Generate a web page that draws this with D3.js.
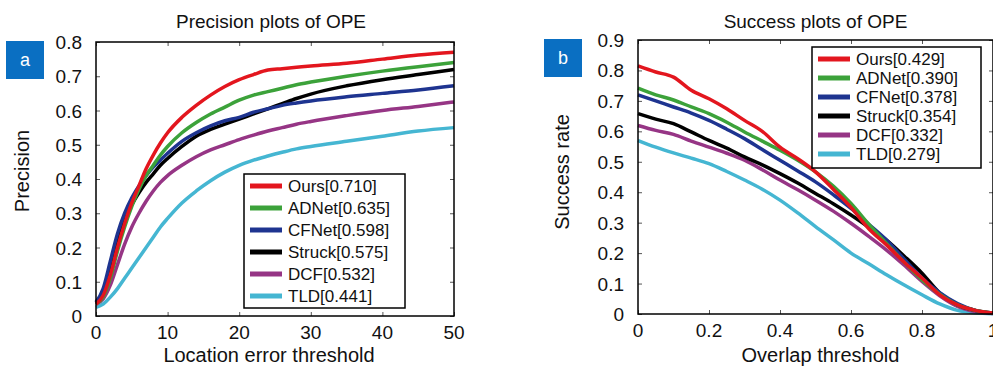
<!DOCTYPE html>
<html>
<head>
<meta charset="utf-8">
<script src="https://cdn.jsdelivr.net/npm/d3@7"></script>
<style>
  body { margin: 0; background: #fff; }
  svg { display: block; font-family: "Liberation Sans", Arial, sans-serif; }
</style>
</head>
<body>
<div id="chart"></div>
<script>
// series names and colours (shared by both panels)
var names = ["Ours", "ADNet", "CFNet", "Struck", "DCF", "TLD"];
var colors = ["#e3161e", "#3ca23a", "#1e3490", "#000000", "#963585", "#45b6d2"];

// precision plot: location error threshold
var precX = [0, 1, 2, 3, 4, 5, 6, 7, 8, 9, 10, 12, 14, 16, 18, 20, 22, 24, 26, 28, 30, 35, 40, 45, 50];
var precOurs   = [0.035, 0.06, 0.12, 0.2, 0.27, 0.33, 0.38, 0.43, 0.47, 0.505, 0.535, 0.58, 0.615, 0.645, 0.67, 0.69, 0.705, 0.718, 0.722, 0.726, 0.73, 0.738, 0.75, 0.762, 0.77];
var precADNet  = [0.035, 0.055, 0.11, 0.19, 0.26, 0.32, 0.37, 0.41, 0.44, 0.47, 0.495, 0.535, 0.565, 0.59, 0.61, 0.63, 0.645, 0.655, 0.665, 0.675, 0.683, 0.7, 0.715, 0.728, 0.74];
var precCFNet  = [0.04, 0.08, 0.16, 0.24, 0.3, 0.345, 0.38, 0.41, 0.435, 0.455, 0.475, 0.51, 0.535, 0.555, 0.57, 0.58, 0.595, 0.605, 0.615, 0.622, 0.628, 0.64, 0.65, 0.66, 0.672];
var precStruck = [0.04, 0.07, 0.14, 0.22, 0.28, 0.325, 0.36, 0.39, 0.415, 0.44, 0.46, 0.495, 0.525, 0.545, 0.56, 0.575, 0.59, 0.605, 0.62, 0.635, 0.648, 0.672, 0.69, 0.705, 0.72];
var precDCF    = [0.035, 0.05, 0.09, 0.15, 0.21, 0.26, 0.3, 0.335, 0.365, 0.39, 0.41, 0.44, 0.465, 0.485, 0.5, 0.515, 0.528, 0.54, 0.55, 0.56, 0.568, 0.585, 0.6, 0.612, 0.625];
var precTLD    = [0.025, 0.035, 0.055, 0.08, 0.11, 0.14, 0.17, 0.2, 0.23, 0.26, 0.285, 0.33, 0.365, 0.395, 0.42, 0.44, 0.455, 0.467, 0.478, 0.488, 0.495, 0.51, 0.525, 0.54, 0.55];
var precScores = ["0.710", "0.635", "0.598", "0.575", "0.532", "0.441"];

// success plot: overlap threshold
var succX = [0, 0.05, 0.1, 0.15, 0.2, 0.25, 0.3, 0.35, 0.4, 0.45, 0.5, 0.55, 0.6, 0.65, 0.7, 0.75, 0.8, 0.85, 0.9, 0.95, 1];
var succOurs   = [0.815, 0.795, 0.778, 0.735, 0.707, 0.674, 0.636, 0.6, 0.548, 0.51, 0.467, 0.41, 0.35, 0.28, 0.227, 0.17, 0.118, 0.063, 0.03, 0.012, 0.003];
var succADNet  = [0.742, 0.72, 0.703, 0.68, 0.658, 0.63, 0.598, 0.568, 0.538, 0.505, 0.467, 0.42, 0.363, 0.295, 0.232, 0.17, 0.112, 0.065, 0.03, 0.012, 0.003];
var succCFNet  = [0.72, 0.7, 0.68, 0.66, 0.636, 0.607, 0.576, 0.54, 0.505, 0.47, 0.434, 0.392, 0.347, 0.295, 0.243, 0.18, 0.118, 0.07, 0.034, 0.012, 0.003];
var succStruck = [0.658, 0.64, 0.625, 0.598, 0.57, 0.545, 0.516, 0.49, 0.461, 0.43, 0.396, 0.362, 0.325, 0.285, 0.243, 0.19, 0.134, 0.069, 0.03, 0.012, 0.003];
var succDCF    = [0.619, 0.603, 0.59, 0.568, 0.548, 0.528, 0.505, 0.474, 0.44, 0.408, 0.374, 0.338, 0.298, 0.255, 0.21, 0.16, 0.107, 0.06, 0.025, 0.008, 0.002];
var succTLD    = [0.57, 0.548, 0.529, 0.512, 0.494, 0.468, 0.44, 0.41, 0.374, 0.332, 0.287, 0.244, 0.2, 0.165, 0.129, 0.095, 0.063, 0.033, 0.012, 0.004, 0.001];
var succScores = ["0.429", "0.390", "0.378", "0.354", "0.332", "0.279"];

var precTicksX = [0, 10, 20, 30, 40, 50];
var precTicksY = [0, 0.1, 0.2, 0.3, 0.4, 0.5, 0.6, 0.7, 0.8];
var succTicksX = [0, 0.2, 0.4, 0.6, 0.8, 1];
var succTicksY = [0, 0.1, 0.2, 0.3, 0.4, 0.5, 0.6, 0.7, 0.8, 0.9];

var W = 993, H = 369;
var svg = d3.select("#chart").append("svg")
    .attr("width", W)
    .attr("height", H);

function fmt(v){
    if(v == Math.round(v)) return String(v);
    return d3.format(".1f")(v);
}

function drawPanel(p){
    var x = d3.scaleLinear().domain(p.xDomain).range([p.left, p.right]);
    var y = d3.scaleLinear().domain(p.yDomain).range([p.bottom, p.top]);
    var g = svg.append("g");

    // inner ticks on all four sides
    g.append("g").attr("transform", "translate(0," + p.bottom + ")")
        .call(d3.axisBottom(x).tickValues(p.ticksX).tickSizeInner(-4).tickSizeOuter(0).tickFormat(""));
    g.append("g").attr("transform", "translate(0," + p.top + ")")
        .call(d3.axisTop(x).tickValues(p.ticksX).tickSizeInner(-4).tickSizeOuter(0).tickFormat(""));
    g.append("g").attr("transform", "translate(" + p.left + ",0)")
        .call(d3.axisLeft(y).tickValues(p.ticksY).tickSizeInner(-4).tickSizeOuter(0).tickFormat(""));
    g.append("g").attr("transform", "translate(" + p.right + ",0)")
        .call(d3.axisRight(y).tickValues(p.ticksY).tickSizeInner(-4).tickSizeOuter(0).tickFormat(""));
    g.selectAll(".domain").remove();
    g.selectAll(".tick line").attr("stroke", "#555").attr("stroke-width", 1);

    // tick labels
    g.selectAll(".xl").data(p.ticksX).enter().append("text")
        .attr("x", function(d){ return x(d); })
        .attr("y", p.bottom + 23)
        .attr("text-anchor", "middle")
        .attr("font-size", 19)
        .attr("fill", "#111")
        .text(fmt);
    g.selectAll(".yl").data(p.ticksY).enter().append("text")
        .attr("x", p.left - 14)
        .attr("y", function(d){ return y(d) + 7; })
        .attr("text-anchor", "end")
        .attr("font-size", 19)
        .attr("fill", "#111")
        .text(fmt);

    // curves
    var line = d3.line()
        .x(function(d){ return x(d[0]); })
        .y(function(d){ return y(d[1]); })
        .curve(d3.curveMonotoneX);
    for(var i=p.series.length-1; i>=0; i--){
        var pts = p.xs.map(function(v, j){ return [v, p.series[i][j]]; });
        g.append("path")
            .datum(pts)
            .attr("d", line)
            .attr("fill", "none")
            .attr("stroke", colors[i])
            .attr("stroke-width", 3.5)
            .attr("stroke-linejoin", "round");
    }

    // plot box
    g.append("rect")
        .attr("x", p.left).attr("y", p.top)
        .attr("width", p.right - p.left).attr("height", p.bottom - p.top)
        .attr("fill", "none").attr("stroke", "#000").attr("stroke-width", 1.5);

    // titles
    g.append("text")
        .attr("x", (p.left + p.right)/2 + p.titleShift)
        .attr("y", 28)
        .attr("text-anchor", "middle")
        .attr("font-size", 19)
        .attr("fill", "#111")
        .text(p.title);
    g.append("text")
        .attr("x", (p.left + p.right)/2 + p.xTitleShift)
        .attr("y", 362)
        .attr("text-anchor", "middle")
        .attr("font-size", 20)
        .attr("fill", "#111")
        .text(p.xTitle);
    g.append("text")
        .attr("transform", "translate(" + p.yTitleX + "," + p.yTitleY + ") rotate(-90)")
        .attr("text-anchor", "middle")
        .attr("font-size", 20)
        .attr("fill", "#111")
        .text(p.yTitle);

    // legend
    var lg = p.legend;
    g.append("rect")
        .attr("x", lg.x).attr("y", lg.y)
        .attr("width", lg.w).attr("height", lg.h)
        .attr("fill", "#fff").attr("stroke", "#000").attr("stroke-width", 1.5);
    names.forEach(function(n, i){
        var cy = lg.y + lg.pad + i*lg.step;
        g.append("line")
            .attr("x1", lg.x + 6).attr("x2", lg.x + 38)
            .attr("y1", cy).attr("y2", cy)
            .attr("stroke", colors[i]).attr("stroke-width", 5);
        g.append("text")
            .attr("x", lg.x + 44)
            .attr("y", cy + 6)
            .attr("font-size", 17)
            .attr("fill", "#111")
            .text(n + "[" + p.scores[i] + "]");
    });

    // panel letter
    g.append("rect")
        .attr("x", p.tag.x).attr("y", p.tag.y)
        .attr("width", 38).attr("height", 38)
        .attr("fill", "#0a6fc2");
    g.append("text")
        .attr("x", p.tag.x + 19).attr("y", p.tag.y + 25)
        .attr("text-anchor", "middle")
        .attr("font-size", 18)
        .attr("fill", "#fff")
        .text(p.tag.label);
}

drawPanel({
    left: 96, right: 454, top: 42, bottom: 316,
    xDomain: [0, 50], yDomain: [0, 0.8],
    ticksX: precTicksX, ticksY: precTicksY,
    xs: precX,
    series: [precOurs, precADNet, precCFNet, precStruck, precDCF, precTLD],
    scores: precScores,
    title: "Precision plots of OPE", titleShift: -4,
    xTitle: "Location error threshold", xTitleShift: -6,
    yTitle: "Precision", yTitleX: 29, yTitleY: 171,
    legend: { x: 244, y: 174, w: 161, h: 134, pad: 12, step: 22 },
    tag: { x: 6, y: 41, label: "a" }
});

drawPanel({
    left: 638, right: 993, top: 40, bottom: 314,
    xDomain: [0, 1], yDomain: [0, 0.9],
    ticksX: succTicksX, ticksY: succTicksY,
    xs: succX,
    series: [succOurs, succADNet, succCFNet, succStruck, succDCF, succTLD],
    scores: succScores,
    title: "Success plots of OPE", titleShift: 0,
    xTitle: "Overlap threshold", xTitleShift: 5,
    yTitle: "Success rate", yTitleX: 569, yTitleY: 172,
    legend: { x: 812, y: 47, w: 169, h: 121, pad: 12, step: 19 },
    tag: { x: 544, y: 39, label: "b" }
});
</script>
</body>
</html>
